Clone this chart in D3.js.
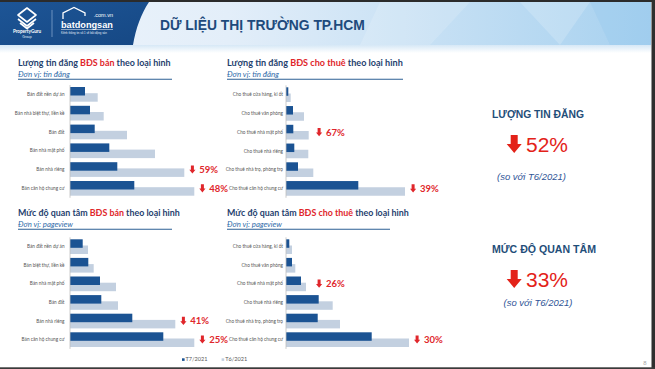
<!DOCTYPE html>
<html><head><meta charset="utf-8">
<script src="https://cdn.jsdelivr.net/npm/d3@7"></script>
<style>html,body{margin:0;padding:0;background:#fff;overflow:hidden}</style>
</head><body><svg id="c" width="655" height="369"></svg>
<script>
// ---------- DATA ----------
const seriesNames = ["T7/2021", "T6/2021"];
const catsSale1 = ["Bán đất nền dự án","Bán nhà biệt thự, liền kề","Bán đất","Bán nhà mặt phố","Bán nhà riêng","Bán căn hộ chung cư"];
const catsRent  = ["Cho thuê cửa hàng, ki ốt","Cho thuê văn phòng","Cho thuê nhà mặt phố","Cho thuê nhà riêng","Cho thuê nhà trọ, phòng trọ","Cho thuê căn hộ chung cư"];
const catsSale2 = ["Bán đất nền dự án","Bán biệt thự, liền kề","Bán nhà mặt phố","Bán đất","Bán nhà riêng","Bán căn hộ chung cư"];

// listings, sale (relative units)
const listSaleT7 = [1500, 2000, 2470, 3930, 4730, 6430];
const listSaleT6 = [2770, 3370, 5700, 8500, 11430, 12430];
// listings, rent
const listRentT7 = [230, 700, 730, 830, 1200, 7230];
const listRentT6 = [470, 1800, 2270, 2230, 2730, 11900];
// interest (pageview), sale
const viewSaleT7 = [1270, 1830, 3000, 3130, 6230, 9330];
const viewSaleT6 = [1800, 2370, 4600, 4800, 10530, 12430];
// interest (pageview), rent
const viewRentT7 = [330, 600, 1500, 3270, 3170, 8570];
const viewRentT6 = [600, 930, 2000, 4670, 5400, 12300];

const annotList1 = [{cat:"Bán nhà riêng", pct:"59%"}, {cat:"Bán căn hộ chung cư", pct:"48%"}];
const annotList2 = [{cat:"Cho thuê nhà mặt phố", pct:"67%"}, {cat:"Cho thuê căn hộ chung cư", pct:"39%"}];
const annotView1 = [{cat:"Bán nhà riêng", pct:"41%"}, {cat:"Bán căn hộ chung cư", pct:"25%"}];
const annotView2 = [{cat:"Cho thuê nhà mặt phố", pct:"26%"}, {cat:"Cho thuê căn hộ chung cư", pct:"30%"}];

const pageTitle = "DỮ LIỆU THỊ TRƯỜNG TP.HCM";
const kpiTitles = ["LƯỢNG TIN ĐĂNG", "MỨC ĐỘ QUAN TÂM"];
const kpiValues = ["52%", "33%"];
const kpiNote = "(so với T6/2021)";

// ---------- STYLE ----------
const NAVY = "#1f3f6e", RED = "#e0262b", DARK = "#1b5393", LIGHT = "#c3d0e0";
const svg = d3.select("#c");

function fit(sel, w) {
  const n = sel.node();
  const fs = parseFloat(sel.attr("font-size"));
  const cur = n.getComputedTextLength();
  if (cur > 0) sel.attr("font-size", fs * w / cur);
  return sel;
}

// page background + frame
svg.append("rect").attr("width",655).attr("height",369).attr("fill","#fff");

// ---------- HEADER ----------
const defs = svg.append("defs");
const g1 = defs.append("linearGradient").attr("id","bannerG").attr("x1","0").attr("x2","1").attr("y1","0").attr("y2","0");
g1.append("stop").attr("offset","0").attr("stop-color","#eef5fc");
g1.append("stop").attr("offset","0.35").attr("stop-color","#e3eef9");
g1.append("stop").attr("offset","1").attr("stop-color","#a7d1ef");
const g2 = defs.append("linearGradient").attr("id","fadeG").attr("x1","0").attr("x2","0").attr("y1","0").attr("y2","1");
g2.append("stop").attr("offset","0").attr("stop-color","#d6e8f6");
g2.append("stop").attr("offset","1").attr("stop-color","#ffffff");
const g3 = defs.append("linearGradient").attr("id","navyG").attr("x1","0").attr("x2","1").attr("y1","0").attr("y2","1");
g3.append("stop").attr("offset","0").attr("stop-color","#1d5596");
g3.append("stop").attr("offset","1").attr("stop-color","#164884");

svg.append("rect").attr("x",0).attr("y",2).attr("width",651).attr("height",43).attr("fill","url(#bannerG)");
svg.append("rect").attr("x",0).attr("y",45).attr("width",651).attr("height",8).attr("fill","url(#fadeG)");
// light shards
svg.append("path").attr("d","M520,2 L590,2 L560,45 Z").attr("fill","#ffffff").attr("opacity",0.18);
svg.append("path").attr("d","M590,2 L651,2 L651,45 L610,45 Z").attr("fill","#8cc3ea").attr("opacity",0.25);
svg.append("path").attr("d","M380,2 L470,2 L430,45 L360,45 Z").attr("fill","#ffffff").attr("opacity",0.15);
// navy logo area
svg.append("path").attr("d","M0,2 L149,2 C141,14 136,28 133,45 L0,45 Z").attr("fill","url(#navyG)");
// PropertyGuru icon
const pg = svg.append("g").attr("fill","none").attr("stroke","#fff").attr("stroke-width",1.6).attr("stroke-linejoin","round");
pg.append("path").attr("d","M27,8 L36,15 L27,22 L18,15 Z");
pg.append("path").attr("d","M18,19 L27,26 L36,19");
pg.append("path").attr("d","M20,23 L27,28.5 L34,23");
svg.append("text").attr("x",27).attr("y",33).attr("text-anchor","middle").attr("font-family","Lato").attr("font-weight","bold")
  .attr("font-size",4.6).attr("fill","#fff").text("PropertyGuru");
svg.append("text").attr("x",27).attr("y",38).attr("text-anchor","middle").attr("font-family","Lato")
  .attr("font-size",3.4).attr("fill","#dfe9f5").text("Group");
svg.append("line").attr("x1",52).attr("x2",52).attr("y1",10).attr("y2",37).attr("stroke","#8fb0d6").attr("stroke-width",0.7);
// batdongsan logo
svg.append("path").attr("d","M63,19 L63,13 L74,7.5 L85,13 L85,16").attr("fill","none").attr("stroke","#fff").attr("stroke-width",1.3);
svg.append("text").attr("x",113).attr("y",16.5).attr("text-anchor","end").attr("font-family","Liberation Sans")
  .attr("font-size",5.5).attr("fill","#fff").text(".com.vn");
fit(svg.append("text").attr("x",61).attr("y",27.5).attr("font-family","Liberation Sans Narrow, Liberation Sans").attr("font-weight","bold")
  .attr("font-size",12).attr("fill","#fff").text("batdongsan"), 52);
svg.append("line").attr("x1",61).attr("x2",113).attr("y1",29.5).attr("y2",29.5).attr("stroke","#fff").attr("stroke-width",0.5);
fit(svg.append("text").attr("x",61).attr("y",34).attr("font-family","Liberation Sans")
  .attr("font-size",2.6).attr("fill","#e5eef8").text("Kênh thông tin số 1 về bất động sản"), 46);
// page title
fit(svg.append("text").attr("x",160).attr("y",30).attr("font-family","Liberation Sans").attr("font-weight","bold")
  .attr("font-size",14).attr("fill","#1e4a7c").text(pageTitle), 205);

// ---------- CHARTS ----------
const panels = [
  {x0:18, axisX:70,  top:87,    step:18.8, titleY:66,  subY:76.5, lineEnd:172, titleW:153,
   parts:["Lượng tin đăng ","BĐS bán"," theo loại hình"], unit:"Đơn vị: tin đăng", unitW:52,
   cats:catsSale1, t7:listSaleT7, t6:listSaleT6, ann:annotList1, labelGap:5.5},
  {x0:227, axisX:286, top:87.3, step:18.75, titleY:66, subY:76.5, lineEnd:403, titleW:176,
   parts:["Lượng tin đăng ","BĐS cho thuê"," theo loại hình"], unit:"Đơn vị: tin đăng", unitW:52,
   cats:catsRent, t7:listRentT7, t6:listRentT6, ann:annotList2, labelGap:3},
  {x0:18, axisX:70,  top:239.3, step:18.6, titleY:216, subY:226.5, lineEnd:172, titleW:162,
   parts:["Mức độ quan tâm ","BĐS bán"," theo loại hình"], unit:"Đơn vị: pageview", unitW:55,
   cats:catsSale2, t7:viewSaleT7, t6:viewSaleT6, ann:annotView1, labelGap:5.5},
  {x0:227, axisX:286, top:239.3, step:18.6, titleY:216, subY:226.5, lineEnd:390, titleW:182,
   parts:["Mức độ quan tâm ","BĐS cho thuê"," theo loại hình"], unit:"Đơn vị: pageview", unitW:55,
   cats:catsRent, t7:viewRentT7, t6:viewRentT6, ann:annotView2, labelGap:3}
];

function smallArrow(g, x, cy) {
  g.append("path").attr("fill",RED)
    .attr("d",`M${x+1.6},${cy-4.2} L${x+4.6},${cy-4.2} L${x+4.6},${cy+0.2} L${x+6.2},${cy+0.2} L${x+3.1},${cy+4} L${x},${cy+0.2} L${x+1.6},${cy+0.2} Z`);
}

panels.forEach(p => {
  const g = svg.append("g");
  // title
  const t = g.append("text").attr("x",p.x0).attr("y",p.titleY).attr("font-family","Lato").attr("font-weight","bold").attr("font-size",9.5);
  t.append("tspan").attr("fill",NAVY).text(p.parts[0]);
  t.append("tspan").attr("fill",RED).text(p.parts[1]);
  t.append("tspan").attr("fill",NAVY).text(p.parts[2]);
  fit(t, p.titleW);
  fit(g.append("text").attr("x",p.x0).attr("y",p.subY).attr("font-family","Lato").attr("font-style","italic")
    .attr("font-size",7.5).attr("fill","#2e6aa8").text(p.unit), p.unitW);
  g.append("line").attr("x1",p.x0).attr("x2",p.lineEnd).attr("y1",79.2 + (p.titleY-66)).attr("y2",79.2 + (p.titleY-66))
    .attr("stroke","#2d5f95").attr("stroke-width",1.1);

  const x = d3.scaleLinear().domain([0,12500]).range([p.axisX, p.axisX+125]);
  const y = d3.scaleBand().domain(p.cats).range([p.top-2, p.top-2+6*p.step]);
  const bh = 8.5;
  // light (T6) behind
  g.selectAll(".l").data(p.cats).join("rect")
    .attr("x",p.axisX).attr("y",c => y(c)+8.2).attr("height",bh)
    .attr("width",(c,i) => x(p.t6[i]) - p.axisX).attr("fill",LIGHT);
  g.selectAll(".d").data(p.cats).join("rect")
    .attr("x",p.axisX).attr("y",c => y(c)+2).attr("height",bh)
    .attr("width",(c,i) => x(p.t7[i]) - p.axisX).attr("fill",DARK);
  // axis
  g.append("line").attr("x1",p.axisX).attr("x2",p.axisX).attr("y1",y.range()[0]).attr("y2",y.range()[1])
    .attr("stroke","#bfbfbf").attr("stroke-width",0.8);
  g.selectAll(".lab").data(p.cats).join("text")
    .attr("x",p.axisX - p.labelGap).attr("y",c => y(c)+y.bandwidth()/2+1.6)
    .attr("text-anchor","end").attr("font-family","Lato").attr("font-size",4.7).attr("fill","#555")
    .text(c => c);
  // annotations
  p.ann.forEach(a => {
    const i = p.cats.indexOf(a.cat);
    const ax = Math.max(x(p.t6[i]) + 5, p.axisX + 30);
    const cy = y(a.cat) + y.bandwidth()/2;
    smallArrow(g, ax, cy);
    g.append("text").attr("x",ax+10).attr("y",cy+3.4).attr("font-family","Lato").attr("font-weight","bold")
      .attr("font-size",9.5).attr("fill",RED).text(a.pct);
  });
});

// legend
const lg = svg.append("g").attr("font-family","Lato").attr("font-size",5.6).attr("fill","#595959");
lg.append("rect").attr("x",182).attr("y",358.3).attr("width",2.6).attr("height",2.6).attr("fill",DARK);
lg.append("text").attr("x",185.5).attr("y",361.4).text(seriesNames[0]);
lg.append("rect").attr("x",221.6).attr("y",358.3).attr("width",2.6).attr("height",2.6).attr("fill",LIGHT);
lg.append("text").attr("x",225.2).attr("y",361.4).text(seriesNames[1]);

// ---------- KPI PANEL ----------
const kpiY = [114, 249.3];
const kpiW = [92, 104];
const noteY = [177.3, 303.3];
const noteX = [531.5, 538];
kpiTitles.forEach((k,i) => {
  fit(svg.append("text").attr("x",[538,544][i]).attr("y",kpiY[i]+3.5).attr("text-anchor","middle")
    .attr("font-family","Liberation Sans").attr("font-weight","bold").attr("font-size",9.5).attr("fill","#1f4e79").text(k), kpiW[i]);
  const top = [135, 270][i];
  const ax = 506.7;
  svg.append("path").attr("fill","#e32219")
    .attr("d",`M${ax+4},${top} L${ax+11},${top} L${ax+11},${top+9} L${ax+15},${top+9} L${ax+7.5},${top+18} L${ax},${top+9} L${ax+4},${top+9} Z`);
  fit(svg.append("text").attr("x",526).attr("y",top+16.5).attr("font-family","Liberation Sans")
    .attr("font-size",21).attr("fill","#e32219").text(kpiValues[i]), 42);
  fit(svg.append("text").attr("x",noteX[i]).attr("y",noteY[i]+3).attr("text-anchor","middle")
    .attr("font-family","Liberation Sans").attr("font-style","italic").attr("font-size",8).attr("fill","#2f5597").text(kpiNote), 69);
});

// page number
svg.append("text").attr("x",646.5).attr("y",365).attr("text-anchor","end").attr("font-family","Liberation Sans")
  .attr("font-size",6).attr("fill","#a6a6a6").text("8");

// frame (screenshot edges)
svg.append("rect").attr("x",0).attr("y",0).attr("width",655).attr("height",2).attr("fill","#2b2b2b");
svg.append("rect").attr("x",651.5).attr("y",0).attr("width",4).attr("height",369).attr("fill","#2f2f2f");
svg.append("rect").attr("x",0).attr("y",367.3).attr("width",655).attr("height",2).attr("fill","#3a3a3a");
</script></body></html>
